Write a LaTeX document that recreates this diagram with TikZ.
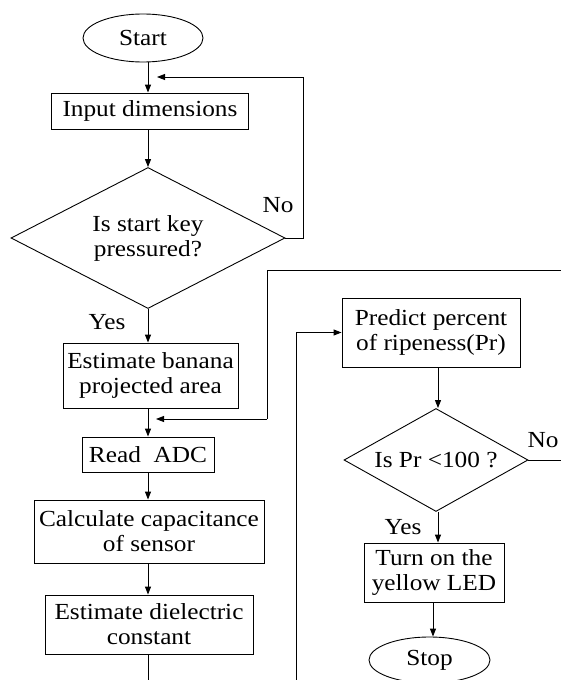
\documentclass[tikz,border=0pt]{standalone}
\usepackage{fontspec}
\setmainfont[FakeStretch=1.1]{Liberation Serif}
\usetikzlibrary{shapes.geometric,arrows.meta}
\begin{document}
\begin{tikzpicture}[x=1pt,y=-1pt,
  every node/.style={font=\fontsize{23}{25}\selectfont, align=center, inner sep=0pt},
  box/.style={draw, line width=0.9pt, rectangle},
  term/.style={draw, line width=0.9pt, ellipse},
  decide/.style={draw, line width=0.9pt, diamond},
  arr/.style={line width=0.9pt, -{Triangle[length=8pt,width=6pt]}},
  ln/.style={line width=0.9pt},
  lbl/.style={font=\fontsize{23}{25}\selectfont}]
\fill[white] (0,0) rectangle (561,680);
\useasboundingbox (0,0) rectangle (561,680);

\node[term, minimum width=120pt, minimum height=48pt] (start) at (143,38) {Start};
\node[box, minimum width=197pt, minimum height=36pt] (input) at (150,111) {Input dimensions};
\node[decide, shape aspect=1.94, minimum width=274pt, minimum height=141pt] (dec1) at (148,238) {Is start key\\pressured?};
\node[box, minimum width=175pt, minimum height=65pt] (banana) at (150.5,375.5) {Estimate banana\\projected area};
\node[box, minimum width=132pt, minimum height=35pt] (adc) at (148,454.5) {Read\ \ ADC};
\node[box, minimum width=230pt, minimum height=63pt] (calc) at (149,531.5) {Calculate capacitance\\of sensor};
\node[box, minimum width=208pt, minimum height=59pt] (diel) at (149,624.5) {Estimate dielectric\\constant};
\node[box, minimum width=178pt, minimum height=69pt] (pred) at (431,332.5) {Predict percent\\of ripeness(Pr)};
\node[decide, shape aspect=1.79, minimum width=184pt, minimum height=103pt] (dec2) at (436,460) {Is Pr <100 ?};
\node[box, minimum width=140pt, minimum height=59pt] (led) at (434,572.5) {Turn on the\\yellow LED};
\node[term, minimum width=121pt, minimum height=46pt] (stop) at (429.5,660) {Stop};

\node[lbl] (no1) at (278,205) {No};
\node[lbl] (yes1) at (107,322) {Yes};
\node[lbl] (no2) at (543,440) {No};
\node[lbl] (yes2) at (403,527) {Yes};

% coordinates for free ends
\coordinate (c1) at (148,62);
\coordinate (fbr) at (303,238);
\coordinate (fbt) at (303,77);
\coordinate (fbtip) at (157,77);
\coordinate (r1) at (561,270);
\coordinate (r2) at (267,270);
\coordinate (r3) at (267,419);
\coordinate (r4) at (156,419);
\coordinate (b1) at (148,680);
\coordinate (p1) at (296,680);
\coordinate (p2) at (296,332.5);
\coordinate (d2r) at (561,460);

\draw[arr] (c1) -- (c1 |- input.north);
\draw[arr] (input.south -| dec1.north) -- (dec1.north);
\draw[ln] (dec1.east) -- (fbr) -- (fbt);
\draw[arr] (fbt) -- (fbtip);
\draw[arr] (dec1.south) -- (dec1.south |- banana.north);
\draw[arr] (banana.south -| adc.north) -- (adc.north);
\draw[ln] (r1) -- (r2) -- (r3);
\draw[arr] (r3) -- (r4);
\draw[arr] (adc.south) -- (adc.south |- calc.north);
\draw[arr] (calc.south -| adc.north) -- (adc.north |- diel.north);
\draw[ln] (diel.south -| adc.north) -- (b1);
\draw[ln] (p1) -- (p2);
\draw[arr] (p2) -- (pred.west);
\draw[arr] (pred.south -| 438,0) -- (dec2.north -| 438,0);
\draw[ln] (dec2.east) -- (d2r);
\draw[arr] (dec2.south -| 438,0) -- (led.north -| 438,0);
\draw[arr] (led.south -| 433,0) -- (stop.north -| 433,0);
\end{tikzpicture}
\end{document}
